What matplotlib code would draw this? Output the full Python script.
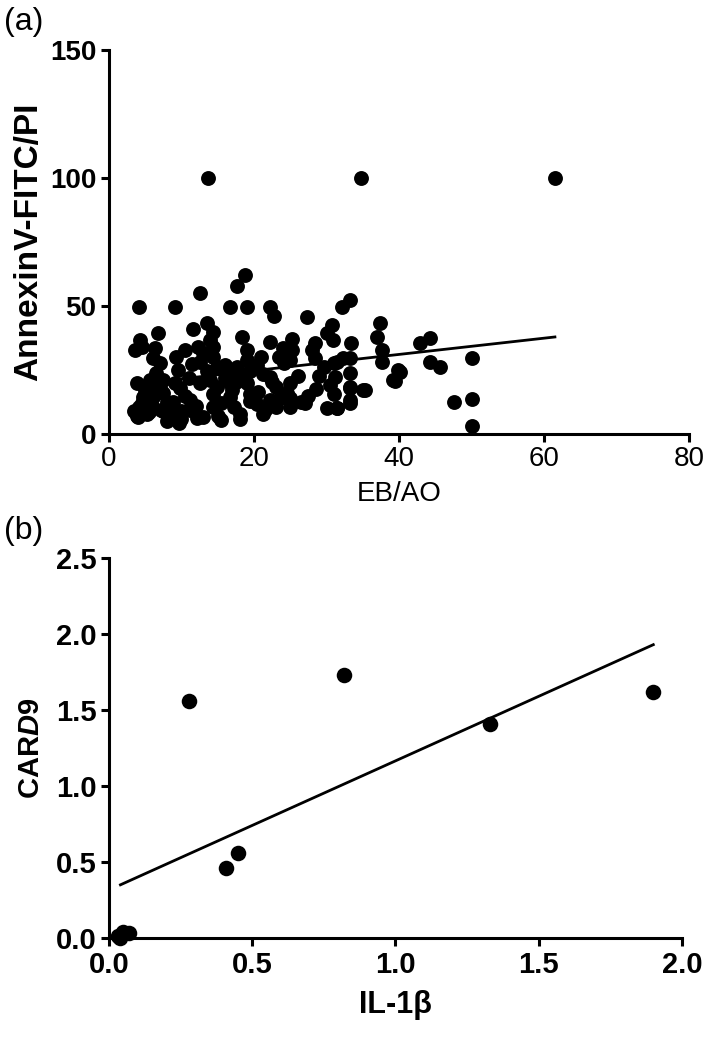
import matplotlib
matplotlib.use("Agg")
import matplotlib.pyplot as plt

plt.rcParams['font.family'] = ['Liberation Sans', 'DejaVu Sans']
plt.rcParams['mathtext.fontset'] = 'custom'
plt.rcParams['mathtext.rm'] = 'Liberation Sans:bold'
plt.rcParams['mathtext.it'] = 'Liberation Sans:italic:bold'

# panel (a): EB/AO vs AnnexinV-FITC/PI
eb_ao = [13.7, 34.8, 61.5,
         18.8, 17.6, 12.6, 4.2, 9.1, 16.7, 19.1, 22.2, 22.8, 27.3, 32.1, 33.2,
         37.4, 30.7, 30.0, 30.9, 36.9, 33.4, 42.9, 44.3, 33.3, 33.3, 33.3, 33.3,
         31.4, 31.2, 31.4, 35.3, 37.6, 37.6, 39.9, 39.4, 45.6, 44.3, 50.0, 47.6,
         50.0, 50.0,
         6.8, 4.3, 3.6, 11.6, 13.5, 14.4, 18.3, 22.2, 25.2, 25.2, 28.4, 28.0, 28.4,
         6.3, 6.1, 7.0, 9.3, 10.5, 12.3, 13.0, 13.9, 14.4, 14.4, 14.9, 17.6, 19.0,
         20.4, 16.7, 21.3, 22.2, 24.1, 25.0, 29.6, 31.0, 32.3,
         3.8, 5.7, 7.5, 9.1, 9.8, 4.7, 6.1, 7.5, 3.8, 5.7, 8.4, 9.6, 11.2, 12.1,
         13.0, 11.2, 14.4, 14.4, 14.9, 13.9, 16.7, 16.7, 17.2, 18.1, 19.0, 19.5,
         20.4, 21.3, 22.2, 23.6, 25.0, 25.0, 23.1, 25.0, 30.0, 31.4, 30.5, 31.0,
         33.2, 33.2, 35.1, 39.2, 40.1,
         4.0, 4.5, 5.0, 6.5, 8.0, 8.5, 9.5, 10.5, 11.0, 12.0, 12.5, 13.5, 15.5,
         16.0, 17.0, 18.5, 19.5, 20.5, 21.0, 23.0, 24.5, 26.0, 27.0, 28.5, 29.0,
         5.5, 7.0, 8.0, 10.0, 11.5, 15.0, 16.0, 18.0, 19.0, 21.5, 23.5, 26.5,
         3.5, 4.5, 6.0, 7.5, 10.0, 12.5, 15.5, 17.5, 19.5, 22.5, 24.0, 27.5,
         3.8, 4.2, 5.2, 6.0, 7.2, 8.8]
annexin = [100, 100, 100,
           62.1, 57.8, 55.0, 49.5, 49.5, 49.5, 49.5, 49.7, 46.2, 45.7, 49.5, 52.3,
           43.5, 42.6, 39.3, 36.7, 38.0, 35.4, 35.4, 37.4, 29.6, 23.7, 17.8, 12.0,
           28.3, 22.2, 10.0, 17.2, 32.8, 28.2, 25.0, 20.8, 26.3, 28.3, 29.6, 12.4,
           13.5, 3.1,
           39.5, 36.7, 32.8, 41.2, 43.2, 40.0, 37.7, 36.0, 37.1, 32.8, 35.4, 32.8, 29.5,
           33.4, 29.5, 27.6, 30.2, 32.8, 34.1, 31.5, 36.7, 34.1, 30.2, 26.3, 26.3, 28.9,
           26.9, 23.6, 23.6, 22.4, 27.6, 28.9, 26.3, 27.6, 29.5,
           19.8, 21.1, 21.1, 19.8, 17.8, 14.5, 14.5, 15.9, 8.0, 10.0, 6.7, 4.1, 9.3, 6.1,
           6.7, 13.2, 15.8, 10.6, 18.5, 21.1, 19.8, 14.5, 10.6, 8.0, 19.8, 15.8,
           11.9, 8.0, 13.2, 13.9, 13.9, 10.6, 18.5, 19.8, 10.0, 10.0, 19.1, 15.8,
           18.5, 13.2, 17.2, 21.1, 24.3,
           6.5, 12.0, 17.0, 24.0, 12.5, 8.0, 25.0, 15.0, 22.0, 11.0, 28.0, 24.5, 12.0,
           22.0, 17.0, 23.0, 13.0, 16.5, 30.0, 10.5, 16.0, 22.5, 12.0, 17.5, 22.5,
           8.5, 18.0, 5.0, 9.0, 27.5, 7.0, 27.0, 6.0, 33.0, 9.5, 30.0, 12.5,
           9.0, 34.0, 20.0, 9.0, 6.0, 20.0, 5.5, 20.5, 24.5, 20.5, 33.5, 15.0,
           7.0, 10.5, 8.0, 11.0, 9.5, 12.5]
line_a_x = [3.5, 61.5]
line_a_y = [19.5, 37.9]

# panel (b): IL-1beta vs CARD9
il1b = [0.03, 0.05, 0.07, 0.04, 0.28, 0.41, 0.45, 0.82, 1.33, 1.90]
card9 = [0.01, 0.04, 0.03, 0.00, 1.56, 0.46, 0.56, 1.73, 1.41, 1.62]
line_b_x = [0.04, 1.90]
line_b_y = [0.35, 1.93]

fig = plt.figure(figsize=(7.1, 10.39), dpi=100)
lw = 2.2


def style(ax, size):
    for s in ['top', 'right']:
        ax.spines[s].set_visible(False)
    for s in ['left', 'bottom']:
        ax.spines[s].set_linewidth(lw)
    ax.tick_params(direction='out', length=6, width=lw, labelsize=size, pad=3)


ax1 = fig.add_axes([0.1535, 0.5823, 0.817, 0.3696])
ax1.scatter(eb_ao, annexin, s=115, color='black', zorder=3, clip_on=False, linewidths=0)
ax1.plot(line_a_x, line_a_y, color='black', lw=2, zorder=2)
ax1.set_xlim(0, 80)
ax1.set_ylim(0, 150)
ax1.set_xticks([0, 20, 40, 60, 80])
ax1.set_yticks([0, 50, 100, 150])
style(ax1, 20)
for t in ax1.get_yticklabels():
    t.set_fontweight('bold')
ax1.set_xlabel('EB/AO', fontsize=20, labelpad=6)
ax1.set_ylabel('AnnexinV-FITC/PI', fontsize=24, fontweight='bold', labelpad=4)
fig.text(0.005, 0.993, '(a)', fontsize=23, va='top', ha='left')

ax2 = fig.add_axes([0.1535, 0.0972, 0.807, 0.3657])
ax2.scatter(il1b, card9, s=125, color='black', zorder=3, clip_on=False, linewidths=0)
ax2.plot(line_b_x, line_b_y, color='black', lw=2, zorder=2)
ax2.set_xlim(0, 2.0)
ax2.set_ylim(0, 2.5)
ax2.set_xticks([0, 0.5, 1.0, 1.5, 2.0])
ax2.set_yticks([0, 0.5, 1.0, 1.5, 2.0, 2.5])
ax2.xaxis.set_major_formatter(matplotlib.ticker.FormatStrFormatter('%.1f'))
ax2.yaxis.set_major_formatter(matplotlib.ticker.FormatStrFormatter('%.1f'))
style(ax2, 21)
for t in ax2.get_xticklabels() + ax2.get_yticklabels():
    t.set_fontweight('bold')
ax2.set_xlabel('IL-1β', fontsize=22, fontweight='bold', labelpad=8)
ax2.set_ylabel(r'CAR$\mathit{D9}$', fontsize=21, fontweight='bold', labelpad=8)
fig.text(0.005, 0.503, '(b)', fontsize=23, va='top', ha='left')

fig.savefig('out.png', dpi=100)
